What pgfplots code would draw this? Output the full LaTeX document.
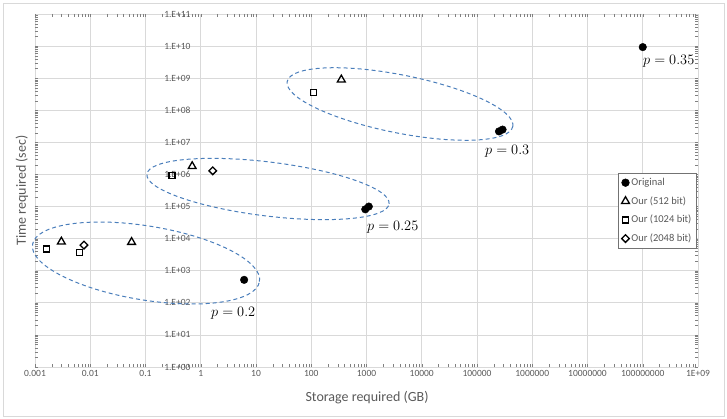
\documentclass[border=0pt]{standalone}
\usepackage{fontspec}
\setmainfont{Carlito}
\usepackage{pgfplots}
\pgfplotsset{compat=1.18}
\definecolor{gridc}{HTML}{D9D9D9}
\definecolor{txt}{HTML}{595959}
\definecolor{ell}{HTML}{4A7EBB}

\pgfplotstableread{
x y
6.1 520
950 82000
1100 100000
250000 22000000
290000 25000000
100000000 9300000000
}\original

\pgfplotstableread{
x y
0.003 8000
0.056 7800
0.7 1800000
350 900000000
}\ourA

\pgfplotstableread{
x y
0.0016 4800
0.0063 3700
0.3 940000
110 350000000
}\ourB

\pgfplotstableread{
x y
0.0077 6300
1.65 1300000
}\ourC

\begin{document}
\begin{tikzpicture}
\path[use as bounding box] (-35pt,-51pt) rectangle (692pt,367pt);
\draw[gridc, line width=0.8pt] (-32pt,-49.5pt) rectangle (689pt,364pt);
\begin{axis}[
  at={(0pt,0pt)}, anchor=south west,
  scale only axis, width=663pt, height=353pt,
  xmode=log, ymode=log,
  xmin=1e-3, xmax=1e9, ymin=1, ymax=1e11,
  xtick={1e-3,1e-2,1e-1,1,1e1,1e2,1e3,1e4,1e5,1e6,1e7,1e8,1e9},
  xticklabels={0.001,0.01,0.1,1,10,100,1000,10000,100000,1000000,10000000,100000000,1E+09},
  ytick={1,1e1,1e2,1e3,1e4,1e5,1e6,1e7,1e8,1e9,1e10,1e11},
  yticklabels={1.E+00,1.E+01,1.E+02,1.E+03,1.E+04,1.E+05,1.E+06,1.E+07,1.E+08,1.E+09,1.E+10,1.E+11},
  minor tick num=0,
  major tick length=0pt,
  grid=major,
  major grid style={gridc, line width=0.8pt},
  axis line style={draw=none},
  xticklabel style={font=\fontsize{9.5}{11}\selectfont, text=txt},
  yticklabel style={font=\fontsize{9.5}{11}\selectfont, text=txt, xshift=159pt},
  xlabel={Storage required (GB)},
  ylabel={Time required (sec)},
  every axis x label/.style={at={(axis description cs:0.5008,-0.0878)}, anchor=center, font=\fontsize{14}{16}\selectfont, text=txt},
  every axis y label/.style={at={(axis description cs:-0.0196,0.5)}, anchor=center, rotate=90, font=\fontsize{14}{16}\selectfont, text=txt},
  legend style={at={(0.998,0.5496)}, anchor=north east, draw=black!55, line width=0.6pt,
    font=\fontsize{10.5}{12}\selectfont, text=txt, row sep=5.5pt, inner sep=3pt},
  legend cell align=left,
  legend image code/.code={\draw[#1] plot coordinates {(3pt,0pt)};},
]
\addplot[only marks, mark=*, mark size=3.8pt, black] table {\original};
\addlegendentry{Original}
\addplot[only marks, mark=triangle, mark size=4.5pt, black, mark options={line width=1.3pt}] table {\ourA};
\addlegendentry{Our (512 bit)}
\addplot[only marks, mark=square, mark size=3pt, black, mark options={line width=1.3pt}] table {\ourB};
\addlegendentry{Our (1024 bit)}
\addplot[only marks, mark=square, mark size=2.7pt, black, mark options={line width=1.3pt, rotate=45}] table {\ourC};
\addlegendentry{Our (2048 bit)}
\end{axis}
\begin{scope}[ell, line width=1pt, dash pattern=on 4pt off 3pt]
\draw[shift={(111pt,104pt)}, rotate=-9.3] (0,0) ellipse [x radius=115pt, y radius=37pt];
\draw[shift={(233pt,178pt)}, rotate=-7] (0,0) ellipse [x radius=122pt, y radius=27pt];
\draw[shift={(365pt,263pt)}, rotate=-11.3] (0,0) ellipse [x radius=115pt, y radius=29pt];
\end{scope}
\begin{scope}[font=\fontsize{14}{16}\selectfont, inner sep=0pt]
\node[anchor=base west] at (176pt,51pt) {$p=0.2$};
\node[anchor=base west] at (332pt,137pt) {$p=0.25$};
\node[anchor=base west] at (450pt,212pt) {$p=0.3$};
\node[anchor=base west] at (608pt,302pt) {$p=0.35$};
\end{scope}
\end{tikzpicture}
\end{document}
